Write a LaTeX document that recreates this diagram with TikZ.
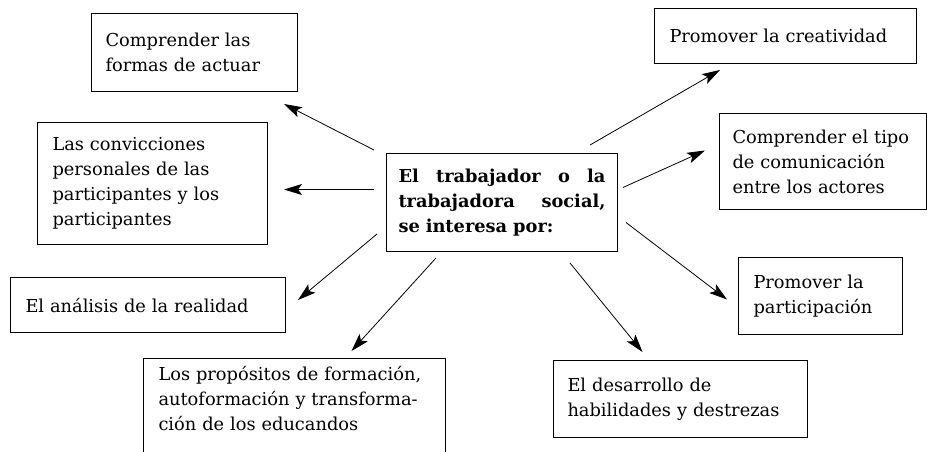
\documentclass[tikz,border=0pt]{standalone}
\usepackage{fontspec}
\setmainfont{DejaVu Serif}
\usetikzlibrary{arrows.meta}

\begin{document}
\begin{tikzpicture}[x=1pt,y=1pt]
	\tikzset{caja/.style={draw=black, line width=1pt, anchor=north west, align=left,
		inner xsep=15pt, inner ysep=0pt, font=\fontsize{17.8}{25}\selectfont}}
	\tikzset{flecha/.style={-{Stealth[length=18pt,width=11pt,inset=4pt]}, line width=0.8pt}}
	\useasboundingbox (0,0) rectangle (927,-451);
	% recuadro central
	\node [caja, text width=207, inner xsep=12pt, minimum height=98,
		font=\fontsize{17.8}{25}\selectfont\bfseries] (hub) at (386,-153)
		{El\hfill trabajador\hfill o\hfill la\\trabajadora\hfill social,\\se interesa por:};
	% lado izquierdo
	\node [caja, text width=178, inner xsep=14pt, minimum height=78] (forma) at (91,-13)
		{Comprender las\\formas de actuar};
	\node [caja, text width=200, minimum height=122] (conv) at (37,-122)
		{Las convicciones\\personales de las\\participantes y los\\participantes};
	\node [caja, text width=245, minimum height=55] (anal) at (10,-277)
		{El análisis de la realidad};
	\node [caja, draw=none, text width=271, minimum height=80] (prop) at (143,-358)
		{Los propósitos de formación,\\autoformación y transforma-\\ción de los educandos};
	\draw [line width=1pt] ([yshift=-13]prop.south west) -- (prop.north west) -- (prop.north east) -- ([yshift=-13]prop.south east);
	% lado derecho
	\node [caja, text width=181, inner xsep=13pt, minimum height=96] (comu) at (719,-113)
		{Comprender el tipo\\de comunicación\\entre los actores};
	\node [caja, text width=232, minimum height=55] (crea) at (654,-8)
		{Promover la creatividad};
	\node [caja, text width=134, minimum height=77] (part) at (738,-257)
		{Promover la\\participación};
	\node [caja, text width=226, inner xsep=14pt, minimum height=77] (habi) at (553,-360)
		{El desarrollo de\\habilidades y destrezas};
	% flechas
	\draw [flecha] ([shift={(-12,3)}]hub.north west) -- ([shift={(-14,-12)}]forma.south east);
	\draw [flecha] ([shift={(-12,13)}]hub.west) -- ([shift={(16,-6)}]conv.east);
	\draw [flecha] ([shift={(-9,18)}]hub.south west) -- ([shift={(12,-23)}]anal.north east);
	\draw [flecha] ([shift={(50,-6)}]hub.south west) -- ([shift={(57.5,7)}]prop.north);
	\draw [flecha] ([shift={(-28,8)}]hub.north east) -- ([shift={(66,-6)}]crea.south west);
	\draw [flecha] ([shift={(5,15)}]hub.east) -- ([shift={(-14,11)}]comu.west);
	\draw [flecha] ([shift={(8,-20)}]hub.east) -- ([shift={(-11,-3.5)}]part.west);
	\draw [flecha] ([shift={(-48,-11)}]hub.south east) -- ([shift={(-38,8)}]habi.north);
\end{tikzpicture}
\end{document}
